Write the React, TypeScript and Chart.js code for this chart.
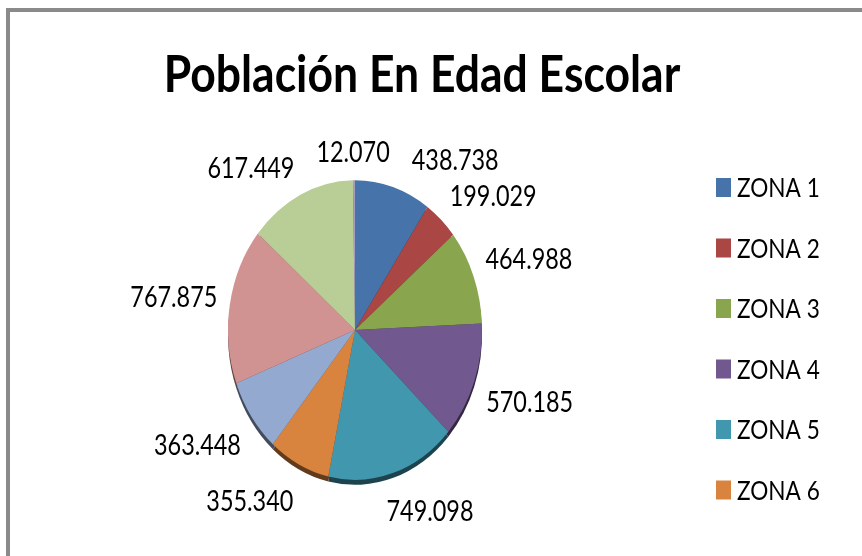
import { useEffect, useRef } from 'react';
import { Chart, registerables } from 'chart.js';

Chart.register(...registerables);

// ---------- data ----------
const TITLE = 'Población En Edad Escolar';
const zoneLabels = ['ZONA 1', 'ZONA 2', 'ZONA 3', 'ZONA 4', 'ZONA 5', 'ZONA 6', 'ZONA 7', 'ZONA 8', 'ZONA 9', 'ZONA 10'];
const populationValues = [438738, 199029, 464988, 570185, 749098, 355340, 363448, 767875, 617449, 12070];
const zoneColors = ['#4673A9', '#AA4644', '#89A54E', '#71598F', '#4197AD', '#D8843F', '#93A9CF', '#D19392', '#B9CD96', '#A99BBD'];
const LEGEND_VISIBLE = 6;

// ---------- styling constants ----------
const FONT = 'Lato, "Noto Sans", sans-serif';
const PIE_SY = 1.18;
const RIM = 5;
const LABEL_SIZE = 23.4;
const LABEL_SY = 1.25;
const LEGEND_SIZE = 22.6;
const LEGEND_SY = 1.18;
const TITLE_SIZE = 44.5;
const TITLE_SY = 1.17;
const LABEL_K = 1.1;

const fmt = (v: number) => String(v).replace(/\B(?=(\d{3})+(?!\d))/g, '.');

function darken(hex: string, f: number) {
  const n = parseInt(hex.slice(1), 16);
  const r = Math.round(((n >> 16) & 255) * f);
  const g = Math.round(((n >> 8) & 255) * f);
  const b = Math.round((n & 255) * f);
  return `rgb(${r},${g},${b})`;
}

function drawText(ctx: CanvasRenderingContext2D, text: string, x: number, y: number, size: number, weight: string, align: CanvasTextAlign, sy: number) {
  ctx.save();
  ctx.translate(x, y);
  ctx.scale(1, sy);
  ctx.font = `${weight} ${size}px ${FONT}`;
  ctx.textAlign = align;
  ctx.textBaseline = 'alphabetic';
  ctx.fillStyle = '#000';
  ctx.fillText(text, 0, 0);
  ctx.restore();
}

const clamp1 = (v: number) => Math.max(-1, Math.min(1, v));

const decorPlugin = {
  id: 'decor',
  beforeDraw(chart: any) {
    const ctx: CanvasRenderingContext2D = chart.ctx;
    ctx.save();
    ctx.strokeStyle = '#8a8a8a';
    ctx.lineWidth = 4;
    ctx.beginPath();
    ctx.moveTo(8, chart.height + 10);
    ctx.lineTo(8, 10);
    ctx.lineTo(chart.width + 10, 10);
    ctx.stroke();
    ctx.restore();
    drawText(ctx, TITLE, 422, 92, TITLE_SIZE, 'bold', 'center', TITLE_SY);
  },
  beforeDatasetsDraw(chart: any) {
    const ctx: CanvasRenderingContext2D = chart.ctx;
    const meta = chart.getDatasetMeta(0);
    const { x, y } = meta.data[0].getProps(['x', 'y']);
    ctx.save();
    ctx.translate(x, y + RIM);
    ctx.scale(1, PIE_SY);
    meta.data.forEach((arc: any, i: number) => {
      const { startAngle, endAngle, outerRadius } = arc.getProps(['startAngle', 'endAngle', 'outerRadius']);
      ctx.beginPath();
      ctx.moveTo(0, 0);
      ctx.arc(0, 0, outerRadius, startAngle, endAngle);
      ctx.closePath();
      ctx.fillStyle = darken(zoneColors[i], 0.45);
      ctx.fill();
    });
    ctx.restore();
    ctx.save();
    ctx.translate(x, y);
    ctx.scale(1, PIE_SY);
    ctx.translate(-x, -y);
  },
  afterDatasetsDraw(chart: any) {
    const ctx: CanvasRenderingContext2D = chart.ctx;
    ctx.restore();
    const meta = chart.getDatasetMeta(0);
    const { x: x0 } = meta.data[0].getProps(['x']);
    ctx.save();
    ctx.font = `normal ${LABEL_SIZE}px ${FONT}`;
    const capH = ctx.measureText('0').actualBoundingBoxAscent * LABEL_SY;
    const boxes = meta.data.map((arc: any, i: number) => {
      const { x, y, startAngle, endAngle, outerRadius } = arc.getProps(['x', 'y', 'startAngle', 'endAngle', 'outerRadius']);
      const mid = (startAngle + endAngle) / 2;
      const c = Math.cos(mid);
      const s = Math.sin(mid);
      const text = fmt(populationValues[i]);
      const w = ctx.measureText(text).width;
      const h = capH + 6;
      const px = x + outerRadius * LABEL_K * c;
      const py = y + outerRadius * PIE_SY * LABEL_K * s + (RIM + 5) * Math.max(0, s);
      return { text, w, h, cx: px + (w / 2) * clamp1(2.5 * c), cy: py + (h / 2) * clamp1(2.5 * s) };
    });
    ctx.restore();
    // collision resolution: the label farther from the vertical axis moves outward
    const margin = 22;
    for (let it = 0; it < 60; it++) {
      let moved = false;
      for (let a = 0; a < boxes.length; a++) {
        for (let b = a + 1; b < boxes.length; b++) {
          const A = boxes[a];
          const B = boxes[b];
          const needX = (A.w + B.w) / 2 + margin - Math.abs(A.cx - B.cx);
          const overlapY = (A.h + B.h) / 2 - Math.abs(A.cy - B.cy);
          if (needX > 0.01 && overlapY > 0) {
            const mover = Math.abs(A.cx - x0) > Math.abs(B.cx - x0) ? A : B;
            const other = mover === A ? B : A;
            mover.cx += (mover.cx >= other.cx ? 1 : -1) * needX;
            moved = true;
          }
        }
      }
      if (!moved) break;
    }
    boxes.forEach((bx: any) => {
      drawText(ctx, bx.text, bx.cx, bx.cy + capH / 2, LABEL_SIZE, 'normal', 'center', LABEL_SY);
    });
    // legend
    const labels: string[] = chart.data.labels;
    for (let i = 0; i < Math.min(LEGEND_VISIBLE, labels.length); i++) {
      const base = 197 + 60.5 * i;
      ctx.save();
      ctx.fillStyle = zoneColors[i];
      ctx.fillRect(716, base - 19, 15, 19);
      ctx.restore();
      drawText(ctx, labels[i], 737, base, LEGEND_SIZE, 'normal', 'left', LEGEND_SY);
    }
  },
};

export default function App() {
  const ref = useRef<HTMLCanvasElement | null>(null);
  useEffect(() => {
    if (!ref.current) return;
    const chart = new Chart(ref.current, {
      type: 'pie',
      data: {
        labels: zoneLabels,
        datasets: [
          {
            data: populationValues,
            backgroundColor: zoneColors,
            borderWidth: 0,
            clip: false,
          } as any,
        ],
      },
      options: {
        responsive: false,
        animation: false,
        layout: { padding: { left: 228, right: 380, top: 203, bottom: 99 } },
        plugins: {
          legend: { display: false },
          title: { display: false },
          tooltip: { enabled: false },
        },
        events: [],
      },
      plugins: [decorPlugin],
    });
    return () => chart.destroy();
  }, []);
  return (
    <div style={{ position: 'fixed', left: 0, top: 0, width: 862, height: 556, background: '#fff' }}>
      <canvas ref={ref} width={862} height={556} />
    </div>
  );
}
